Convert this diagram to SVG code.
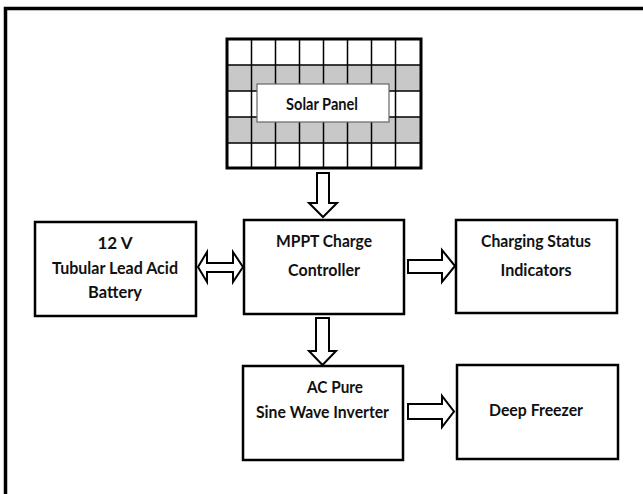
<svg xmlns="http://www.w3.org/2000/svg" width="643" height="494" viewBox="0 0 643 494">
<style>
.box{fill:#fff;stroke:#000;stroke-width:2.5}
.arr{fill:#fff;stroke:#000;stroke-width:2;stroke-linejoin:miter}
.t{font-family:Lato,"Open Sans","Liberation Sans",sans-serif;font-weight:700;font-size:17px;fill:#111;text-anchor:middle}
.cell{fill:none;stroke:#000;stroke-width:1.5}
.gray{fill:#c8c8c8}
</style>
<rect width="643" height="494" fill="#fff"/>
<path d="M5.5,494 V8.5 H643" fill="none" stroke="#000" stroke-width="3.5"/>

<g id="solar-panel">
  <rect x="227" y="39" width="194" height="129" fill="#fff"/>
  <rect class="gray" x="227" y="65" width="194" height="26"/>
  <rect class="gray" x="227" y="117" width="194" height="26"/>
  <g class="cell">
    <path d="M251.5,39V168M275.5,39V168M299.5,39V168M323.5,39V168M347.5,39V168M371.5,39V168M395.5,39V168"/>
    <path d="M227,65H421M227,91H421M227,117H421M227,143H421"/>
  </g>
  <rect x="227" y="39" width="194" height="129" fill="none" stroke="#000" stroke-width="3"/>
  <rect x="257" y="84" width="132" height="38" fill="#fff" stroke="#666" stroke-width="1.2"/>
  <text class="t" x="322" y="110" textLength="72" lengthAdjust="spacingAndGlyphs">Solar Panel</text>
</g>

<g id="battery">
  <rect class="box" x="35" y="222" width="161" height="94"/>
  <text class="t" x="115" y="249">12 V</text>
  <text class="t" x="115" y="274" textLength="126" lengthAdjust="spacingAndGlyphs">Tubular Lead Acid</text>
  <text class="t" x="115" y="298" textLength="54" lengthAdjust="spacingAndGlyphs">Battery</text>
</g>

<g id="mppt">
  <rect class="box" x="244" y="220" width="160" height="94"/>
  <text class="t" x="324" y="247" textLength="96" lengthAdjust="spacingAndGlyphs">MPPT Charge</text>
  <text class="t" x="324" y="276" textLength="72" lengthAdjust="spacingAndGlyphs">Controller</text>
</g>

<g id="charging-status">
  <rect class="box" x="456" y="220" width="161" height="93"/>
  <text class="t" x="536" y="247" textLength="110" lengthAdjust="spacingAndGlyphs">Charging Status</text>
  <text class="t" x="536" y="276" textLength="71" lengthAdjust="spacingAndGlyphs">Indicators</text>
</g>

<g id="inverter">
  <rect class="box" x="243" y="366" width="160" height="94"/>
  <text class="t" x="335" y="393" textLength="56" lengthAdjust="spacingAndGlyphs">AC Pure</text>
  <text class="t" x="322.5" y="418" textLength="133" lengthAdjust="spacingAndGlyphs">Sine Wave Inverter</text>
</g>

<g id="freezer">
  <rect class="box" x="457" y="365" width="161" height="94"/>
  <text class="t" x="536" y="416" textLength="94" lengthAdjust="spacingAndGlyphs">Deep Freezer</text>
</g>

<g id="connectors">
  <polygon class="arr" points="317,173 329,173 329,203 337,203 323,217 309,203 317,203"/>
  <polygon class="arr" points="316,318 329,318 329,351 336,351 322.5,365 309,351 316,351"/>
  <polygon class="arr" points="198,267 207,252 207,263 233,263 233,252 243,267 233,282 233,272 207,272 207,282"/>
  <polygon class="arr" points="408,260 442,260 442,250 455,266 442,282 442,273 408,273"/>
  <polygon class="arr" points="408,404 442,404 442,396 454,411.5 442,427 442,419 408,419"/>
</g>
</svg>
